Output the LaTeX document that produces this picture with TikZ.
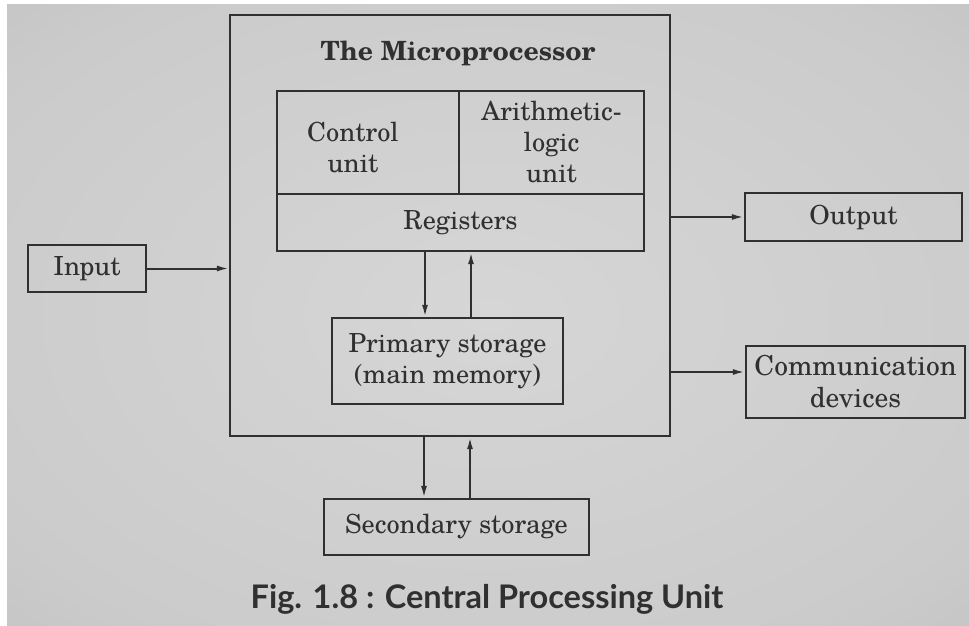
\documentclass[tikz,border=0pt]{standalone}
\usepackage{fontspec}
\setmainfont{texgyreschola}[Extension=.otf, UprightFont=*-regular, BoldFont=*-bold]
\newfontfamily\capfont{Lato}
\usetikzlibrary{arrows.meta,calc}
\definecolor{ink}{HTML}{303030}
\definecolor{bgin}{HTML}{D6D6D6}
\definecolor{bgmid}{HTML}{CBCBCB}
\definecolor{bgout}{HTML}{A6A6A6}
\pgfdeclareradialshading{vign}{\pgfpoint{0bp}{0bp}}{color(0bp)=(bgin); color(30bp)=(bgmid); color(71bp)=(bgout)}
\tikzset{
  box/.style={draw=ink, line width=2.3pt, inner sep=0pt, align=center, text=ink,
    font=\fontsize{26.3}{31}\selectfont},
  arr/.style={draw=ink, line width=2pt, -{Latex[length=12pt,width=6pt]}},
  lbl/.style={text=ink, align=center, font=\fontsize{26.3}{31}\selectfont}
}
\begin{document}
\begin{tikzpicture}[x=1pt,y=-1pt]
\useasboundingbox (0,0) rectangle (969,626);
\fill[white] (0,0) rectangle (969,626);
\shade[shading=vign] (7,5) rectangle (969,626);
% main box
\node[box, minimum width=440pt, minimum height=421pt] (main) at (450,225.5) {};
\node[lbl, font=\fontsize{26.5}{30}\selectfont\bfseries] (title) at (458,53) {The Microprocessor};
% inner boxes
\node[box, minimum width=182pt, minimum height=103pt] (cu) at (368,142.5) {};
\node[lbl] (cut) at (353,148) {Control\\unit};
\node[box, minimum width=185pt, minimum height=103pt] (alu) at (551.5,142.5) {Arithmetic-\\logic\\unit};
\node[box, minimum width=367pt, minimum height=57pt] (reg) at (460.5,222.5) {Registers};
\node[box, minimum width=231pt, minimum height=86pt] (prim) at (447.5,361) {Primary storage\\(main memory)};
\node[box, minimum width=265pt, minimum height=56pt] (sec) at (456.5,527) {Secondary storage};
\node[box, minimum width=118pt, minimum height=47pt] (inp) at (87,268.5) {Input};
\node[box, minimum width=217pt, minimum height=48pt] (out) at (853.5,217) {Output};
\node[box, minimum width=219pt, minimum height=72pt, font=\fontsize{27.5}{32}\selectfont] (comm) at (855.5,382) {Communication\\devices};
% connector guides
\coordinate (xa) at (425,0);
\coordinate (xb) at (471,0);
\coordinate (xc) at (424,0);
\coordinate (xd) at (470,0);
\coordinate (yc) at (0,372);
% connectors
\draw[arr] (reg.south -| xa) -- (prim.north -| xa);
\draw[arr] (prim.north -| xb) -- (reg.south -| xb);
\draw[arr] (main.south -| xc) -- (sec.north -| xc);
\draw[arr] (sec.north -| xd) -- (main.south -| xd);
\draw[arr] (inp.east) -- (inp.east -| main.west);
\draw[arr] (main.east |- out.west) -- (out.west);
\draw[arr] (main.east |- yc) -- (comm.west |- yc);
% caption
\node[text=ink, font=\capfont\bfseries\fontsize{32.5}{38}\selectfont] (cap) at (487,599) {Fig. 1.8 : Central Processing Unit};
\end{tikzpicture}
\end{document}
